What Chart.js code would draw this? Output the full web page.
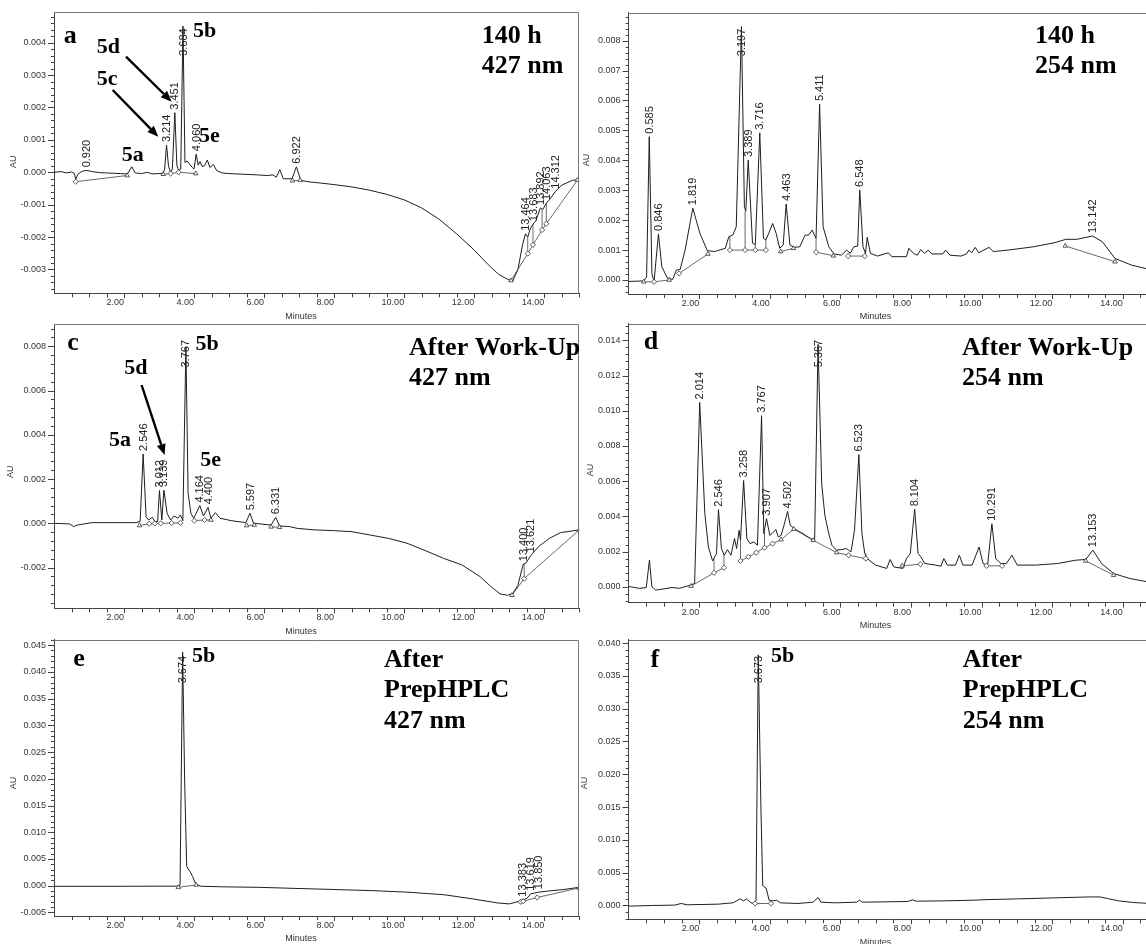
<!DOCTYPE html>
<html><head><meta charset="utf-8">
<script src="https://cdn.jsdelivr.net/npm/chart.js@4.4.1/dist/chart.umd.min.js"></script>
<style>
html,body{margin:0;padding:0;background:#fff;width:1146px;height:944px;overflow:hidden;}
.panel{position:absolute;overflow:hidden;}
.panel canvas{position:absolute;left:0;top:0;}
</style></head><body>
<div class="panel" style="left:0;top:0;width:584px;height:322px"><canvas id="ca" width="584" height="322"></canvas></div>
<div class="panel" style="left:580px;top:0;width:566px;height:319px"><canvas id="cb" width="600" height="319"></canvas></div>
<div class="panel" style="left:0;top:319px;width:582px;height:318px"><canvas id="cc" width="584" height="318"></canvas></div>
<div class="panel" style="left:580px;top:319px;width:566px;height:316px"><canvas id="cd" width="600" height="316"></canvas></div>
<div class="panel" style="left:0;top:635px;width:584px;height:309px"><canvas id="ce" width="584" height="309"></canvas></div>
<div class="panel" style="left:580px;top:635px;width:566px;height:309px"><canvas id="cf" width="600" height="309"></canvas></div>
<script>
// ---------- shared axis ticks ----------
const xTickValues = [2, 4, 6, 8, 10, 12, 14];

// ---------- panel a : 140 h, 427 nm ----------
const aTime = [0.00,0.20,0.35,0.50,0.58,0.62,0.68,0.80,0.920,1.10,1.30,1.50,1.70,1.90,2.05,2.12,2.22,2.32,2.50,2.67,2.80,3.00,3.12,3.16,3.214,3.27,3.33,3.38,3.451,3.51,3.56,3.62,3.684,3.74,3.80,3.87,3.95,4.00,4.060,4.12,4.17,4.23,4.30,4.38,4.45,4.55,4.65,4.80,5.00,5.40,5.80,6.10,6.25,6.35,6.45,6.55,6.80,6.922,7.05,7.30,7.60,8.00,8.50,9.00,9.50,10.00,10.50,11.00,11.50,12.00,12.40,12.70,12.95,13.10,13.25,13.38,13.464,13.53,13.60,13.683,13.76,13.892,13.96,14.063,14.15,14.312,14.50,14.80,15.00];
const aAU = [0,0.00002,-0.00002,0.00001,-0.00003,-0.00022,-0.00006,0.00003,0.00006,0.00002,-0.00001,-0.00002,-0.00003,-0.00004,-0.00005,-0.00002,0.00017,-0.00002,-0.00004,0.00000,-0.00005,-0.00004,-0.00003,0.00010,0.00084,0.00020,-0.00001,0.00010,0.00184,0.00020,0.00006,0.00010,0.00451,0.00030,0.00035,0.00025,0.00015,0.00010,0.00056,0.00022,0.00033,0.00018,0.00020,0.00038,0.00015,0.00024,0.00005,-0.00002,-0.00004,-0.00006,-0.00008,-0.00010,-0.00008,-0.00015,0.00008,-0.00020,-0.00020,0.00017,-0.00025,-0.00030,-0.00033,-0.00038,-0.00045,-0.00055,-0.00068,-0.00085,-0.00110,-0.00145,-0.00190,-0.00240,-0.00285,-0.00315,-0.00330,-0.00336,-0.00300,-0.00225,-0.00190,-0.00200,-0.00175,-0.00160,-0.00150,-0.00110,-0.00115,-0.00095,-0.00085,-0.00060,-0.00040,-0.00025,-0.00022];
const aBaseTime = [0.62,2.09,null,3.12,3.33,3.56,4.05,null,3.33,3.33,null,3.56,3.56,null,6.81,7.03,null,13.05,13.53,13.68,13.94,14.06,14.95,null,13.53,13.53,null,13.68,13.68,null,13.94,13.94,null,14.06,14.06];
const aBaseAU = [-0.00029,-0.00010,null,-0.00006,-0.00004,0.00000,-0.00004,null,-0.00004,-0.00001,null,0.00000,0.00006,null,-0.00026,-0.00025,null,-0.00334,-0.00251,-0.00224,-0.00178,-0.00159,-0.00024,null,-0.00251,-0.00200,null,-0.00224,-0.00160,null,-0.00178,-0.00115,null,-0.00159,-0.00095];
const aBaseMark = ['d','t','','t','d','d','t','','','','','','','','t','t','','t','d','d','d','d','t'];
const aPeaks = [0.920,3.214,3.451,3.684,4.060,6.922,13.464,13.683,13.892,14.063,14.312];
const aYTicks = [-0.003,-0.002,-0.001,0,0.001,0.002,0.003,0.004];

// ---------- panel b : 140 h, 254 nm ----------
const bTime = [0.00,0.43,0.51,0.585,0.66,0.72,0.846,0.94,1.10,1.25,1.35,1.46,1.60,1.819,2.02,2.23,2.43,2.74,2.84,2.95,3.05,3.197,3.28,3.32,3.389,3.51,3.59,3.716,3.82,3.89,3.97,4.08,4.18,4.28,4.38,4.463,4.57,4.69,4.85,5.00,5.10,5.20,5.31,5.411,5.51,5.67,5.82,6.03,6.18,6.28,6.38,6.49,6.548,6.64,6.71,6.76,6.85,7.05,7.36,7.46,7.67,7.87,7.94,8.07,8.18,8.28,8.38,8.49,8.59,8.90,8.98,9.10,9.42,9.57,9.64,9.72,9.82,9.92,10.21,10.33,10.75,11.47,12.08,12.39,12.70,13.142,13.42,13.78,14.24,14.73,15.00];
const bAU = [-0.00005,-0.00003,0.00010,0.00479,0.00022,-0.00006,0.00154,0.00045,0.00006,0.00002,0.00033,0.00035,0.00100,0.00240,0.00156,0.00098,0.00095,0.00106,0.00145,0.00150,0.00178,0.00847,0.00245,0.00230,0.00401,0.00123,0.00118,0.00492,0.00139,0.00134,0.00156,0.00189,0.00156,0.00106,0.00117,0.00254,0.00117,0.00109,0.00111,0.00150,0.00150,0.00167,0.00139,0.00588,0.00178,0.00111,0.00087,0.00083,0.00100,0.00089,0.00111,0.00113,0.00301,0.00111,0.00089,0.00143,0.00089,0.00080,0.00091,0.00078,0.00078,0.00078,0.00106,0.00089,0.00083,0.00102,0.00089,0.00100,0.00087,0.00087,0.00100,0.00083,0.00080,0.00087,0.00100,0.00091,0.00109,0.00091,0.00109,0.00095,0.00100,0.00111,0.00125,0.00136,0.00136,0.00147,0.00128,0.00072,0.00050,0.00036,0.00030];
const bBaseTime = [0.43,0.72,1.15,null,1.43,2.25,null,2.87,3.30,3.59,3.89,null,4.31,4.67,null,5.31,5.80,null,6.22,6.69,null,12.37,13.78,null,2.87,2.87,null,3.30,3.30,null,3.59,3.59,null,3.89,3.89,null,5.31,5.31,null,6.69,6.69];
const bBaseAU = [-0.00006,-0.00006,0.00000,null,0.00022,0.00087,null,0.00100,0.00100,0.00100,0.00100,null,0.00095,0.00106,null,0.00093,0.00081,null,0.00080,0.00080,null,0.00114,0.00061,null,0.00100,0.00145,null,0.00100,0.00230,null,0.00100,0.00118,null,0.00100,0.00134,null,0.00093,0.00139,null,0.00080,0.00089];
const bBaseMark = ['t','d','t','','d','t','','d','d','d','d','','t','t','','d','t','','d','d','','t','t'];
const bPeaks = [0.585,0.846,1.819,3.197,3.389,3.716,4.463,5.411,6.548,13.142];
const bYTicks = [0,0.001,0.002,0.003,0.004,0.005,0.006,0.007,0.008];

// ---------- panel c : after work-up, 427 nm ----------
const cTime = [0.00,0.45,0.56,0.66,1.08,1.71,2.34,2.46,2.546,2.63,2.70,2.81,2.88,2.96,3.012,3.08,3.139,3.23,3.33,3.43,3.54,3.61,3.68,3.767,3.83,3.91,3.99,4.06,4.164,4.27,4.400,4.48,4.61,4.74,5.06,5.48,5.597,5.70,5.90,6.20,6.331,6.44,6.73,6.95,7.46,7.98,8.51,9.03,9.55,10.08,10.60,11.12,11.65,12.17,12.48,12.74,12.95,13.10,13.25,13.400,13.48,13.621,13.84,14.15,14.47,15.00];
const cAU = [0.00000,-0.00003,-0.00015,-0.00008,0.00003,0.00003,0.00003,0.00008,0.00313,0.00030,0.00015,0.00027,0.00008,0.00008,0.00148,0.00015,0.00150,0.00045,0.00015,0.00033,0.00023,0.00038,0.00012,0.00798,0.00136,0.00045,0.00023,0.00045,0.00080,0.00033,0.00072,0.00023,0.00048,0.00023,0.00012,0.00003,0.00045,0.00000,-0.00003,-0.00008,0.00027,-0.00012,-0.00015,-0.00023,-0.00030,-0.00033,-0.00038,-0.00053,-0.00068,-0.00090,-0.00123,-0.00158,-0.00188,-0.00241,-0.00286,-0.00319,-0.00325,-0.00318,-0.00280,-0.00185,-0.00180,-0.00145,-0.00105,-0.00068,-0.00042,-0.00030];
const cBaseTime = [2.44,2.72,2.88,3.05,3.36,3.61,null,4.01,4.30,4.48,null,5.50,5.72,null,6.20,6.44,null,13.08,13.43,15.00,null,13.43,13.43];
const cBaseAU = [-0.00010,-0.00002,-0.00001,0.00000,0.00001,0.00002,null,0.00012,0.00015,0.00015,null,-0.00010,-0.00008,null,-0.00016,-0.00018,null,-0.00325,-0.00250,-0.00030,null,-0.00250,-0.00182];
const cBaseMark = ['t','d','d','d','d','d','','d','d','t','','t','t','','t','t','','t','d','t'];
const cPeaks = [2.546,3.012,3.139,3.767,4.164,4.400,5.597,6.331,13.400,13.621];
const cYTicks = [-0.002,0,0.002,0.004,0.006,0.008];

// ---------- panel d : after work-up, 254 nm ----------
const dTime = [0.00,0.30,0.50,0.59,0.66,0.77,1.03,1.23,1.44,1.75,1.87,2.014,2.16,2.26,2.38,2.49,2.546,2.63,2.71,2.80,2.90,3.00,3.06,3.13,3.17,3.258,3.35,3.44,3.55,3.65,3.767,3.83,3.907,4.00,4.06,4.17,4.24,4.32,4.39,4.502,4.58,4.73,4.94,5.15,5.27,5.367,5.47,5.56,5.66,5.76,5.89,6.02,6.17,6.30,6.40,6.523,6.61,6.69,6.75,6.81,7.00,7.31,7.41,7.51,7.77,7.87,7.98,8.104,8.20,8.28,8.39,8.70,8.85,8.93,9.03,9.26,9.37,9.47,9.73,9.93,10.04,10.17,10.291,10.40,10.55,10.70,10.86,11.01,11.53,12.15,12.67,12.95,13.153,13.40,13.74,14.20,14.70,15.00];
const dAU = [0.00002,-0.00009,-0.00005,0.00151,0.00000,-0.00019,-0.00011,-0.00004,-0.00009,0.00009,0.00019,0.01047,0.00415,0.00226,0.00147,0.00189,0.00438,0.00217,0.00179,0.00211,0.00179,0.00274,0.00217,0.00321,0.00264,0.00604,0.00274,0.00245,0.00255,0.00236,0.00972,0.00302,0.00387,0.00292,0.00302,0.00325,0.00283,0.00292,0.00340,0.00428,0.00349,0.00325,0.00302,0.00274,0.00264,0.01377,0.00585,0.00406,0.00311,0.00236,0.00208,0.00211,0.00217,0.00198,0.00321,0.00751,0.00302,0.00189,0.00166,0.00151,0.00123,0.00104,0.00155,0.00113,0.00104,0.00160,0.00189,0.00440,0.00189,0.00170,0.00132,0.00123,0.00117,0.00160,0.00123,0.00123,0.00179,0.00123,0.00123,0.00226,0.00132,0.00123,0.00358,0.00160,0.00132,0.00132,0.00179,0.00123,0.00123,0.00132,0.00151,0.00155,0.00208,0.00132,0.00075,0.00047,0.00028,0.00025];
const dBaseTime = [1.77,2.42,2.70,null,3.17,3.39,3.62,3.85,4.08,4.32,4.68,5.23,5.89,6.23,6.72,null,7.75,8.27,null,10.14,10.58,null,12.95,13.74,null,2.42,2.42,null,2.70,2.70,null,3.17,3.17,null,3.85,3.85,null,6.72,6.72];
const dBaseAU = [0.00004,0.00079,0.00108,null,0.00147,0.00170,0.00194,0.00222,0.00245,0.00268,0.00328,0.00264,0.00194,0.00179,0.00160,null,0.00119,0.00128,null,0.00119,0.00119,null,0.00147,0.00066,null,0.00079,0.00160,null,0.00108,0.00180,null,0.00147,0.00264,null,0.00222,0.00320,null,0.00160,0.00190];
const dBaseMark = ['t','d','d','','d','d','d','d','d','t','t','t','t','d','d','','t','d','','d','d','','t','t'];
const dPeaks = [2.014,2.546,3.258,3.767,3.907,4.502,5.367,6.523,8.104,10.291,13.153];
const dYTicks = [0,0.002,0.004,0.006,0.008,0.010,0.012,0.014];

// ---------- panel e : after prep-HPLC, 427 nm ----------
const eTime = [0.00,1.00,2.00,3.00,3.52,3.60,3.674,3.73,3.79,3.89,3.96,4.05,4.20,4.80,5.85,6.91,7.97,9.03,10.10,11.16,12.00,12.65,13.00,13.30,13.383,13.50,13.619,13.70,13.850,14.10,14.56,15.00];
const eAU = [-0.00010,-0.00010,-0.00010,-0.00008,-0.00008,0.00010,0.04370,0.02000,0.00360,0.00260,0.00170,0.00030,-0.00010,-0.00020,-0.00030,-0.00050,-0.00070,-0.00090,-0.00120,-0.00170,-0.00250,-0.00320,-0.00340,-0.00290,-0.00260,-0.00240,-0.00150,-0.00140,-0.00120,-0.00100,-0.00070,-0.00030];
const eBaseTime = [3.55,4.06,null,13.33,13.40,13.80,15.00];
const eBaseAU = [-0.00030,0.00015,null,-0.00300,-0.00290,-0.00220,-0.00040];
const eBaseMark = ['t','t','','d','d','d','t'];
const ePeaks = [3.674,13.383,13.619,13.850];
const eYTicks = [-0.005,0,0.005,0.010,0.015,0.020,0.025,0.030,0.035,0.040,0.045];

// ---------- panel f : after prep-HPLC, 254 nm ----------
const fTime = [0.00,0.68,1.30,1.49,1.66,2.54,2.95,3.16,3.26,3.34,3.47,3.55,3.61,3.673,3.75,3.80,3.90,3.98,4.09,4.19,4.30,4.80,5.22,5.37,5.45,5.84,6.46,6.54,6.62,7.90,8.05,8.15,8.93,9.75,10.22,10.99,12.02,13.05,13.36,13.57,13.88,14.30,14.79,15.00];
const fAU = [-0.00010,0.00000,0.00005,0.00030,0.00010,0.00020,0.00040,0.00100,0.00070,0.00100,0.00040,0.00030,0.00080,0.03820,0.01440,0.00300,0.00260,0.00080,0.00070,0.00080,0.00040,0.00030,0.00050,0.00120,0.00050,0.00040,0.00050,0.00080,0.00050,0.00060,0.00085,0.00065,0.00070,0.00080,0.00090,0.00100,0.00115,0.00130,0.00130,0.00105,0.00070,0.00045,0.00030,0.00025];
const fBaseTime = [3.58,4.03];
const fBaseAU = [0.00030,0.00030];
const fBaseMark = ['d','d'];
const fPeaks = [3.673];
const fYTicks = [0,0.005,0.010,0.015,0.020,0.025,0.030,0.035,0.040];

// ---------- drawing ----------
const SANS = '"Liberation Sans", Arial, sans-serif';
const SERIF = '"Liberation Serif", "Times New Roman", serif';

function decorate(chart, P) {
  const ctx = chart.ctx, A = chart.chartArea, xs = chart.scales.x, ys = chart.scales.y;
  ctx.save();
  // frame (top + right)
  ctx.strokeStyle = '#777'; ctx.lineWidth = 1;
  const T = Math.round(A.top) + 0.5, R = Math.round(A.right) - 0.5;
  ctx.beginPath(); ctx.moveTo(A.left, T); ctx.lineTo(R, T); ctx.lineTo(R, A.bottom); ctx.stroke();
  // tick marks
  ctx.strokeStyle = '#444'; ctx.beginPath();
  for (let k = 1; k * 0.5 <= 15 + 1e-9; k++) {
    const v = k * 0.5, px = Math.round(xs.getPixelForValue(v)) + 0.5;
    const len = (k % 4 === 0) ? 5 : 4;
    ctx.moveTo(px, A.bottom); ctx.lineTo(px, A.bottom + len);
  }
  const kmin = Math.ceil(P.yMin / P.yMinor - 1e-6), kmax = Math.floor(P.yMax / P.yMinor + 1e-6);
  for (let k = kmin; k <= kmax; k++) {
    const v = k * P.yMinor, r = v / P.yMajor, major = Math.abs(r - Math.round(r)) < 1e-6;
    const py = Math.round(ys.getPixelForValue(v)) + 0.5;
    ctx.moveTo(A.left, py); ctx.lineTo(A.left - (major ? 6 : 3), py);
  }
  ctx.stroke();
  // axis titles
  ctx.fillStyle = '#333'; ctx.font = '9px ' + SANS; ctx.textAlign = 'center'; ctx.textBaseline = 'middle';
  ctx.fillText('Minutes', A.left + 247, A.bottom + 23);
  ctx.save(); ctx.translate(P.au[0], P.au[1]); ctx.rotate(-Math.PI / 2); ctx.fillText('AU', 0, 0); ctx.restore();
  // peak retention-time labels
  ctx.font = '11px ' + SANS; ctx.fillStyle = '#222';
  P.peaks.forEach(pt => {
    let best = 0;
    P.t.forEach((t, i) => { if (Math.abs(t - pt) < Math.abs(P.t[best] - pt)) best = i; });
    const px = xs.getPixelForValue(pt), py = ys.getPixelForValue(P.y[best]);
    const label = pt.toFixed(3), w = ctx.measureText(label).width;
    let start = py - 3;
    if (start - w < A.top + 16) start = A.top + 16 + w;
    ctx.save(); ctx.translate(px, start); ctx.rotate(-Math.PI / 2);
    ctx.textAlign = 'left'; ctx.textBaseline = 'middle'; ctx.fillText(label, 0, 0.5);
    ctx.restore();
  });
  // arrows
  ctx.strokeStyle = '#000'; ctx.fillStyle = '#000'; ctx.lineWidth = 2.4;
  (P.arrows || []).forEach(([x1, y1, x2, y2]) => {
    const ang = Math.atan2(y2 - y1, x2 - x1), hl = 11, hw = 4.5;
    const bx = x2 - hl * Math.cos(ang), by = y2 - hl * Math.sin(ang);
    ctx.beginPath(); ctx.moveTo(x1, y1); ctx.lineTo(bx, by); ctx.stroke();
    ctx.beginPath(); ctx.moveTo(x2, y2);
    ctx.lineTo(bx + hw * Math.sin(ang), by - hw * Math.cos(ang));
    ctx.lineTo(bx - hw * Math.sin(ang), by + hw * Math.cos(ang));
    ctx.closePath(); ctx.fill();
  });
  // annotation texts
  ctx.fillStyle = '#000'; ctx.textAlign = 'left'; ctx.textBaseline = 'alphabetic';
  (P.texts || []).forEach(([s, x, y, size]) => {
    ctx.font = 'bold ' + size + 'px ' + SERIF; ctx.fillText(s, x, y);
  });
  ctx.restore();
}

function buildPanel(id, P) {
  const trace = P.t.map((t, i) => ({ x: t, y: P.y[i] }));
  let last = 0;
  const base = P.bt.map((t, i) => { if (t !== null) last = t; return { x: last, y: P.by[i] }; });
  const mark = i => P.bm[i] || '';
  new Chart(document.getElementById(id), {
    type: 'line',
    data: { datasets: [
      { data: trace, borderColor: '#1e1e1e', borderWidth: 1, pointRadius: 0, tension: 0, spanGaps: false, order: 1 },
      { data: base, borderColor: '#444', borderWidth: 0.8, tension: 0, spanGaps: false, order: 0,
        pointStyle: c => mark(c.dataIndex) === 'd' ? 'rectRot' : 'triangle',
        pointRadius: c => mark(c.dataIndex) ? 2.6 : 0,
        pointBackgroundColor: '#fff', pointBorderColor: '#333', pointBorderWidth: 0.8 }
    ]},
    options: {
      responsive: false, animation: false, events: [],
      layout: { padding: P.pad },
      plugins: { legend: { display: false }, tooltip: { enabled: false } },
      scales: {
        x: { type: 'linear', min: 0, max: 15, bounds: 'data',
          afterBuildTicks: s => { s.ticks = xTickValues.map(v => ({ value: v })); },
          afterFit: s => { s.height = P.xH; s.paddingLeft = 0; s.paddingRight = 0; },
          grid: { display: false, drawTicks: false },
          border: { display: true, color: '#444', width: 1 },
          ticks: { align: 'end', padding: 4, maxRotation: 0, autoSkip: false, color: '#333',
            font: { size: 9, family: SANS }, callback: v => Number(v).toFixed(2) } },
        y: { type: 'linear', min: P.yMin, max: P.yMax, bounds: 'data',
          afterBuildTicks: s => { s.ticks = P.yTicks.map(v => ({ value: v })); },
          afterFit: s => { s.width = P.yW; s.paddingTop = 0; s.paddingBottom = 0; },
          grid: { display: false, drawTicks: false },
          border: { display: true, color: '#444', width: 1 },
          ticks: { padding: 8, color: '#333', font: { size: 9, family: SANS },
            callback: v => Number(v).toFixed(3) } }
      }
    },
    plugins: [{ id: 'deco_' + id, afterDraw: c => decorate(c, P) }]
  });
}

buildPanel('ca', { t: aTime, y: aAU, bt: aBaseTime, by: aBaseAU, bm: aBaseMark, peaks: aPeaks, yTicks: aYTicks,
  yMin: -0.003735, yMax: 0.004938, yMajor: 0.001, yMinor: 0.0002,
  pad: { left: 0, top: 12.3, right: 4, bottom: 0 }, yW: 54, xH: 28.7, au: [14, 161.7],
  arrows: [[126, 56.7, 171.7, 101.7], [112.7, 90, 158.3, 136.7]],
  texts: [['a', 63.8, 43.3, 26], ['5b', 193, 37.3, 22], ['5d', 96.7, 53.3, 22], ['5c', 96.7, 85, 22], ['5a', 121.7, 160.7, 22], ['5e', 199, 141.7, 22], ['140 h', 481.7, 43.3, 26], ['427 nm', 481.7, 73.3, 26]] });

buildPanel('cb', { t: bTime, y: bAU, bt: bBaseTime, by: bBaseAU, bm: bBaseMark, peaks: bPeaks, yTicks: bYTicks,
  yMin: -0.000468, yMax: 0.008934, yMajor: 0.001, yMinor: 0.0002,
  pad: { left: 0, top: 12.7, right: 21.9, bottom: 0 }, yW: 48.6, xH: 25, au: [7, 160],
  texts: [['140 h', 455, 42.7, 26], ['254 nm', 455, 73.3, 26]] });

buildPanel('cc', { t: cTime, y: cAU, bt: cBaseTime, by: cBaseAU, bm: cBaseMark, peaks: cPeaks, yTicks: cYTicks,
  yMin: -0.003841, yMax: 0.009006, yMajor: 0.002, yMinor: 0.0004,
  pad: { left: 0, top: 5, right: 4, bottom: 0 }, yW: 54, xH: 28.7, au: [11, 152.7],
  arrows: [[141.6, 66, 164.6, 136]],
  texts: [['c', 67.2, 31, 26], ['5b', 195.4, 31, 22], ['5d', 124.3, 55, 22], ['5a', 109, 127, 22], ['5e', 200.2, 146.7, 22], ['After Work-Up', 409, 36, 26], ['427 nm', 409, 66, 26]] });

buildPanel('cd', { t: dTime, y: dAU, bt: dBaseTime, by: dBaseAU, bm: dBaseMark, peaks: dPeaks, yTicks: dYTicks,
  yMin: -0.000905, yMax: 0.01494, yMajor: 0.002, yMinor: 0.0004,
  pad: { left: 0, top: 3.7, right: 21.9, bottom: 0 }, yW: 48.6, xH: 32.3, au: [11, 151],
  texts: [['d', 63.7, 30.3, 26], ['After Work-Up', 382, 36, 26], ['254 nm', 382, 66, 26]] });

buildPanel('ce', { t: eTime, y: eAU, bt: eBaseTime, by: eBaseAU, bm: eBaseMark, peaks: ePeaks, yTicks: eYTicks,
  yMin: -0.00566, yMax: 0.046, yMajor: 0.005, yMinor: 0.001,
  pad: { left: 0, top: 4.3, right: 4, bottom: 0 }, yW: 54, xH: 28, au: [14, 148],
  texts: [['e', 73.2, 31, 26], ['5b', 192, 26.7, 22], ['After', 384, 31.7, 26], ['PrepHPLC', 384, 62.3, 26], ['427 nm', 384, 93.3, 26]] });

buildPanel('cf', { t: fTime, y: fAU, bt: fBaseTime, by: fBaseAU, bm: fBaseMark, peaks: fPeaks, yTicks: fYTicks,
  yMin: -0.00211, yMax: 0.0405, yMajor: 0.005, yMinor: 0.001,
  pad: { left: 0, top: 1.7, right: 21.9, bottom: 0 }, yW: 48.6, xH: 24.7, au: [5, 148],
  texts: [['f', 70.4, 31.7, 26], ['5b', 191, 26.7, 22], ['After', 382.8, 31.7, 26], ['PrepHPLC', 382.8, 62.3, 26], ['254 nm', 382.8, 93.3, 26]] });
</script>
</body></html>
